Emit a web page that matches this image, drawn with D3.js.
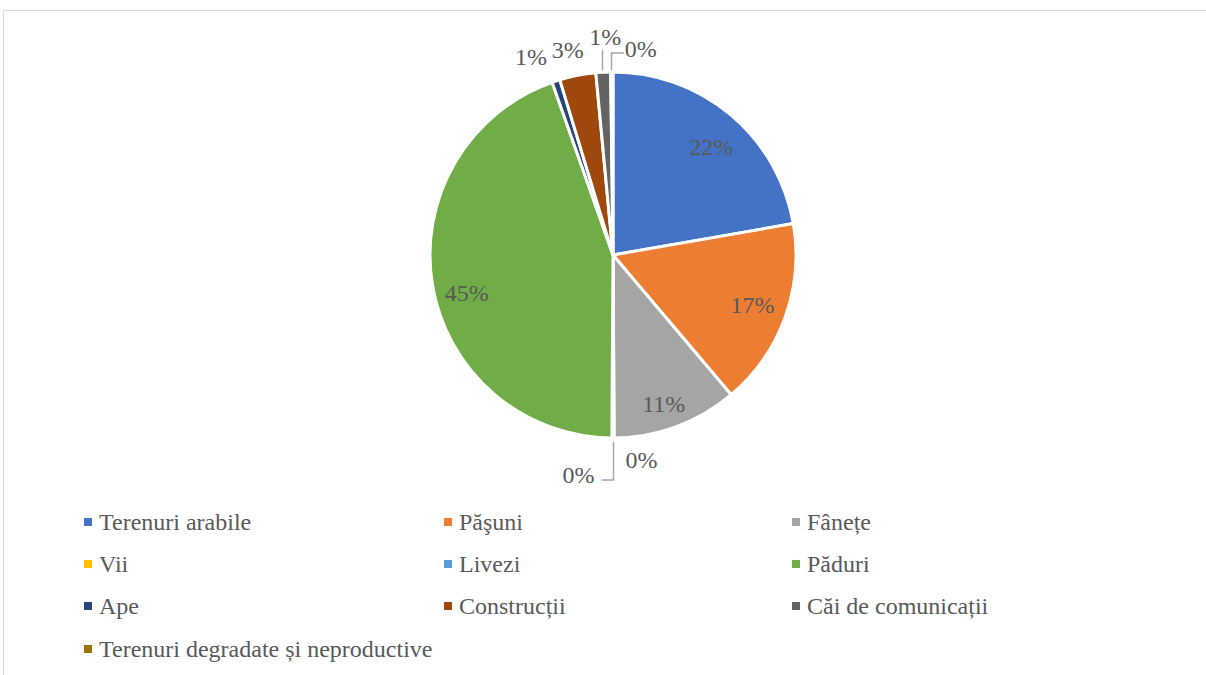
<!DOCTYPE html>
<html><head><meta charset="utf-8">
<script src="https://cdn.jsdelivr.net/npm/d3@7"></script>
<style>body{margin:0;background:#fff}svg{display:block}</style>
</head><body>
<svg id="c" width="1206" height="675"></svg>
<script>
const categories = ["Terenuri arabile","Păşuni","Fânețe","Vii","Livezi","Păduri","Ape","Construcții","Căi de comunicații","Terenuri degradate și neproductive"];
const values = [22.3,16.6,11.1,0.1,0.1,44.6,0.7,3.2,1.3,0.2];
const colors = ["#4472C4","#ED7D31","#A5A5A5","#FFC000","#5B9BD5","#70AD47","#264478","#9E480E","#636363","#997300"];
// label layout: "in" = inside at ratio of radius (+ small nudge); "out" = offset from outer arc point
const labelMode = ["in","in","in","out","out","in","out","out","out","out"];
const labelOffset = [[4,4],[2,0],[0,11],[-35,37],[29,22],[-2,13],[-25,-25],[-10,-26],[2,-36],[29,-23]];
const leaderType = [null,null,null,"downLeft",null,null,null,null,"up","upRight"];

const svg = d3.select("#c");
const FONT = '"Liberation Serif"';
const FS = 24;
const textColor = "#595959";

// frame
svg.append("path").attr("d","M3.5,675 V10.5 H1206").attr("fill","none").attr("stroke","#d9d9d9").attr("stroke-width",1);

const cx = 613, cy = 255, R = 183;
const g = svg.append("g").attr("transform",`translate(${cx},${cy})`);
const pie = d3.pie().sort(null).value(d=>d)(values);
const arc = d3.arc().innerRadius(0).outerRadius(R);
const total = d3.sum(values);

g.selectAll("path.s").data(pie).join("path").attr("class","s")
  .attr("d",arc).attr("fill",(d,i)=>colors[i])
  .attr("stroke","#fff").attr("stroke-width",3).attr("stroke-linejoin","round");

const labelArc = d3.arc().innerRadius(R*0.8).outerRadius(R*0.8);
pie.forEach((d,i)=>{
  const txt = Math.round(values[i]/total*100)+"%";
  const mid = (d.startAngle+d.endAngle)/2;
  let x,y;
  const ax = Math.sin(mid)*R, ay = -Math.cos(mid)*R;
  if(labelMode[i]==="in"){
    const c = labelArc.centroid(d); x=c[0]+labelOffset[i][0]; y=c[1]+labelOffset[i][1];
  } else {
    x = ax + labelOffset[i][0]; y = ay + labelOffset[i][1];
  }
  g.append("text").attr("x",x).attr("y",y).attr("dy","0.35em").attr("text-anchor","middle")
    .style("font-family",FONT).style("font-size",FS+"px").attr("fill",textColor).text(txt);
  const lt = leaderType[i];
  if(lt){
    const sx = Math.round(ax)-0.5, sy = ay;
    let p;
    if(lt==="downLeft"){ p = `M${sx},${sy+4} V${y+5} H${x+23}`; }
    else if(lt==="up"){ p = `M${sx},${sy-2} V${y+14}`; }
    else if(lt==="upRight"){ p = `M${sx},${sy-2} V${y+4} H${x-17}`; }
    g.append("path").attr("d",p).attr("fill","none").attr("stroke","#a6a6a6").attr("stroke-width",1.5);
  }
});

// legend
const colX = [84,444,792], rowY = [522,564,606,649];
const lg = svg.append("g");
categories.forEach((c,i)=>{
  const col = i%3, row = Math.floor(i/3);
  const x = colX[col], y = rowY[row];
  lg.append("rect").attr("x",x).attr("y",y-4).attr("width",8).attr("height",8).attr("fill",colors[i]);
  lg.append("text").attr("x",x+15).attr("y",y).attr("dy","0.35em")
    .style("font-family",FONT).style("font-size",FS+"px").attr("fill",textColor).text(c);
});
</script>
</body></html>
